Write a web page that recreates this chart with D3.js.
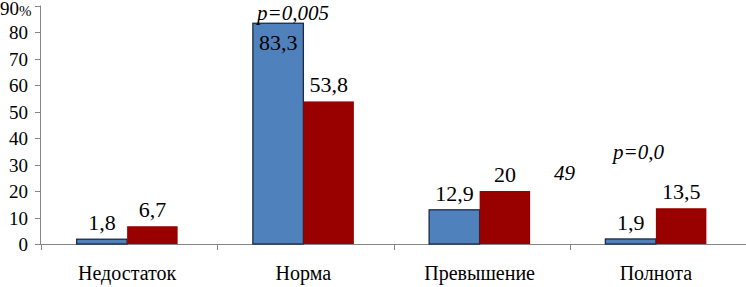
<!DOCTYPE html>
<html>
<head>
<meta charset="utf-8">
<script src="https://cdn.jsdelivr.net/npm/d3@7"></script>
</head>
<body style="margin:0">
<script>
// datos
const categories = ["Недостаток", "Норма", "Превышение", "Полнота"];
const seriesBlue = [1.8, 83.3, 12.9, 1.9];
const seriesRed = [6.7, 53.8, 20, 13.5];
const yTicks = [0, 10, 20, 30, 40, 50, 60, 70, 80];

const width = 746, height = 287;
const svg = d3.select("body").append("svg")
    .attr("width", width)
    .attr("height", height)
    .attr("font-family", "Times New Roman");

// escalas
const x = d3.scaleBand()
    .domain(categories)
    .range([41, 746]);
const y = d3.scaleLinear()
    .domain([0, 90])
    .range([244, 5.5]);

const barW = 50.5;
const fmt = v => String(v).replace(".", ",");

// fuente serif en cada texto
function addText(sel, size, italic) {
    return sel
        .attr("font-family", "Times New Roman")
        .attr("font-size", size)
        .attr("font-style", italic ? "italic" : null);
}

// eje Y
svg.append("line")
    .attr("x1", 40.5).attr("x2", 40.5)
    .attr("y1", y(90)).attr("y2", y(0))
    .attr("stroke", "#868686");
svg.selectAll(".ytick")
    .data(yTicks.concat([90]))
    .enter().append("line")
    .attr("x1", 35).attr("x2", 40.5)
    .attr("y1", d => Math.round(y(d)) + 0.5)
    .attr("y2", d => Math.round(y(d)) + 0.5)
    .attr("stroke", "#868686");
addText(svg.selectAll(".ylab")
    .data(yTicks)
    .enter().append("text")
    .attr("x", 28)
    .attr("y", d => y(d) + 7)
    .attr("text-anchor", "end")
    .text(d => d), 19);
// 90%
addText(svg.append("text")
    .attr("x", 0).attr("y", 15)
    .text("90"), 19);
addText(svg.append("text")
    .attr("x", 19).attr("y", 16)
    .text("%"), 15);

// eje X
svg.append("line")
    .attr("x1", 40).attr("x2", 746)
    .attr("y1", 244.5).attr("y2", 244.5)
    .attr("stroke", "#868686");
svg.selectAll(".xtick")
    .data(categories.map(c => x(c)).concat([745.5]))
    .enter().append("line")
    .attr("x1", d => Math.round(d) + 0.5).attr("x2", d => Math.round(d) + 0.5)
    .attr("y1", 244).attr("y2", 250)
    .attr("stroke", "#868686");
addText(svg.selectAll(".xlab")
    .data(categories)
    .enter().append("text")
    .attr("x", d => x(d) + x.bandwidth() / 2 - 2)
    .attr("y", 280)
    .attr("text-anchor", "middle")
    .text(d => d), 20);

// barras azules
svg.selectAll(".blue")
    .data(categories)
    .enter().append("rect")
    .attr("x", d => x(d) + x.bandwidth() / 2 - barW - 2)
    .attr("y", (d, i) => y(seriesBlue[i]))
    .attr("width", barW)
    .attr("height", (d, i) => y(0) - y(seriesBlue[i]))
    .attr("fill", "#4f81bd")
    .attr("stroke", "#1c2a43")
    .attr("stroke-width", 1.3);

// barras rojas
svg.selectAll(".red")
    .data(categories)
    .enter().append("rect")
    .attr("x", d => x(d) + x.bandwidth() / 2 - 2)
    .attr("y", (d, i) => y(seriesRed[i]))
    .attr("width", barW)
    .attr("height", (d, i) => y(0) - y(seriesRed[i]))
    .attr("fill", "#990000");

// etiquetas de valores
addText(svg.selectAll(".blab")
    .data(categories)
    .enter().append("text")
    .attr("x", d => x(d) + x.bandwidth() / 2 - barW / 2 - 2)
    .attr("y", (d, i) => seriesBlue[i] > 60 ? y(seriesBlue[i]) + 27 : y(seriesBlue[i]) - 9)
    .attr("text-anchor", "middle")
    .text((d, i) => fmt(seriesBlue[i])), 22);
addText(svg.selectAll(".rlab")
    .data(categories)
    .enter().append("text")
    .attr("x", d => x(d) + x.bandwidth() / 2 + barW / 2 - 2)
    .attr("y", (d, i) => y(seriesRed[i]) - 9)
    .attr("text-anchor", "middle")
    .text((d, i) => fmt(seriesRed[i])), 22);

// anotaciones p
addText(svg.append("text")
    .attr("x", 257).attr("y", 20)
    .text("p=0,005"), 21, true);
addText(svg.append("text")
    .attr("x", 613).attr("y", 159)
    .text("p=0,0"), 21, true);
addText(svg.append("text")
    .attr("x", 554).attr("y", 180)
    .text("49"), 21, true);
</script>
</body>
</html>
